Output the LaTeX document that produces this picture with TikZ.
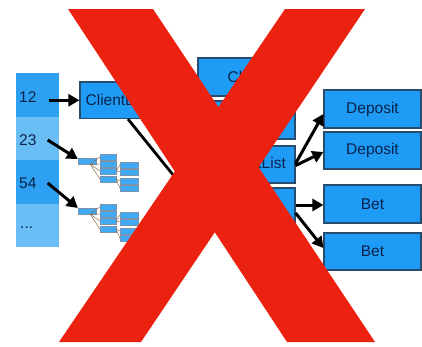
\documentclass[tikz,border=0pt]{standalone}
\usepackage{fontspec}
\setmainfont{Liberation Sans}
\usetikzlibrary{arrows.meta}
\definecolor{boxblue}{RGB}{30,155,245}
\definecolor{boxline}{RGB}{40,75,110}
\definecolor{celldark}{RGB}{45,160,242}
\definecolor{celllight}{RGB}{105,190,245}
\definecolor{txt}{RGB}{10,35,75}
\definecolor{xred}{RGB}{236,34,16}
\definecolor{minil}{RGB}{140,110,80}
\begin{document}
\begin{tikzpicture}[x=1pt,y=-1pt,
  bx/.style={draw=boxline, line width=1.2pt, fill=boxblue, inner sep=0pt, text=txt, font=\fontsize{15.5}{18}\selectfont},
  cell/.style={inner sep=0pt, minimum width=43pt, minimum height=43.5pt},
  lbl/.style={inner sep=0pt, text=txt, font=\fontsize{15.5}{18}\selectfont, anchor=west},
  arr/.style={line width=3pt, -{Triangle[length=11pt,width=12pt]}},
  mb/.style={draw=boxline!60, line width=0.3pt, fill=boxblue!85, inner sep=0pt},
  ml/.style={draw=minil, line width=0.5pt}]
\useasboundingbox (0,0) rectangle (422,346);
% left column
\node[cell, fill=celldark]  (c1) at (37.5,95.2) {};
\node[cell, fill=celllight] (c2) at (37.5,138.7) {};
\node[cell, fill=celldark]  (c3) at (37.5,182.2) {};
\node[cell, fill=celllight] (c4) at (37.5,225.7) {};
\node[lbl] (t12) at (19,97) {12};
\node[lbl] (t23) at (19,140) {23};
\node[lbl] (t54) at (19,183) {54};
\node[lbl] (tdots) at (20,228) {...};
% client list box
\node[bx, minimum width=75pt, minimum height=36.5pt] (cl) at (117.5,100.25) {ClientList};
% middle boxes
\node[bx, minimum width=99pt, minimum height=38pt] (b1) at (247.5,77) {Client};
\node[bx, minimum width=95pt, minimum height=38pt] (b2) at (247.5,120) {};
\node[bx, minimum width=95pt, minimum height=37pt] (b3) at (247.5,164.5) {DepositList};
\node[bx, minimum width=95pt, minimum height=39pt] (b4) at (247.5,207.5) {};
% right boxes
\node[bx, minimum width=97pt, minimum height=38pt] (d1) at (372.5,109) {Deposit};
\node[bx, minimum width=97pt, minimum height=37pt] (d2) at (372.5,150.5) {Deposit};
\node[bx, minimum width=97pt, minimum height=38pt] (e1) at (372.5,204) {Bet};
\node[bx, minimum width=97pt, minimum height=37pt] (e2) at (372.5,251.5) {Bet};
% mini trees
\foreach \t/\dy in {1/0,2/50}{
  \node[mb, minimum width=18pt, minimum height=6pt] (m\t r) at (87,{161+\dy}) {};
  \node[mb, minimum width=16pt, minimum height=6pt] (m\t a) at (108,{157+\dy}) {};
  \node[mb, minimum width=16pt, minimum height=6pt] (m\t b) at (108,{164+\dy}) {};
  \node[mb, minimum width=16pt, minimum height=6pt] (m\t c) at (108,{171+\dy}) {};
  \node[mb, minimum width=16pt, minimum height=6pt] (m\t d) at (108,{179+\dy}) {};
  \node[mb, minimum width=18pt, minimum height=6pt] (m\t e) at (129,{165+\dy}) {};
  \node[mb, minimum width=18pt, minimum height=6pt] (m\t f) at (129,{172+\dy}) {};
  \node[mb, minimum width=18pt, minimum height=6pt] (m\t g) at (129,{181+\dy}) {};
  \node[mb, minimum width=18pt, minimum height=6pt] (m\t h) at (129,{188+\dy}) {};
  \foreach \k in {a,b,c,d}{\draw[ml] ([xshift=-6pt]m\t r.south east) -- (m\t \k.west);}
  \draw[ml] (m\t c.east) -- (m\t e.west);
  \draw[ml] (m\t c.east) -- (m\t f.west);
  \draw[ml] (m\t d.east) -- (m\t g.west);
  \draw[ml] (m\t d.east) -- (m\t h.west);
}
% arrows
\draw[arr] ([xshift=12pt]t12.east |- cl.west) -- (cl.west);
\draw[arr] ([xshift=11pt]t23.east) -- ([yshift=2pt]m1r.west);
\draw[arr] ([xshift=11pt]t54.east) -- ([yshift=3pt]m2r.west);
\draw[line width=2.8pt] ([xshift=10.5pt]cl.south) -- (b4.west);
\draw[arr] ([yshift=1pt]b3.east) -- ([yshift=-5pt]d1.west);
\draw[arr] ([yshift=-1pt]b3.east) -- ([yshift=-1.5pt]d2.west);
\draw[arr] ([yshift=2.5pt]b4.east) -- ([yshift=-1pt]e1.west);
\draw[arr] ([yshift=-5.5pt]b4.east) -- ([yshift=3.5pt]e2.west);
% red X
\fill[xred] (68,9) -- (153,9) -- (375,342) -- (287,342) -- cycle;
\fill[xred] (285,9) -- (365,9) -- (141,342) -- (59,342) -- cycle;
\end{tikzpicture}
\end{document}
